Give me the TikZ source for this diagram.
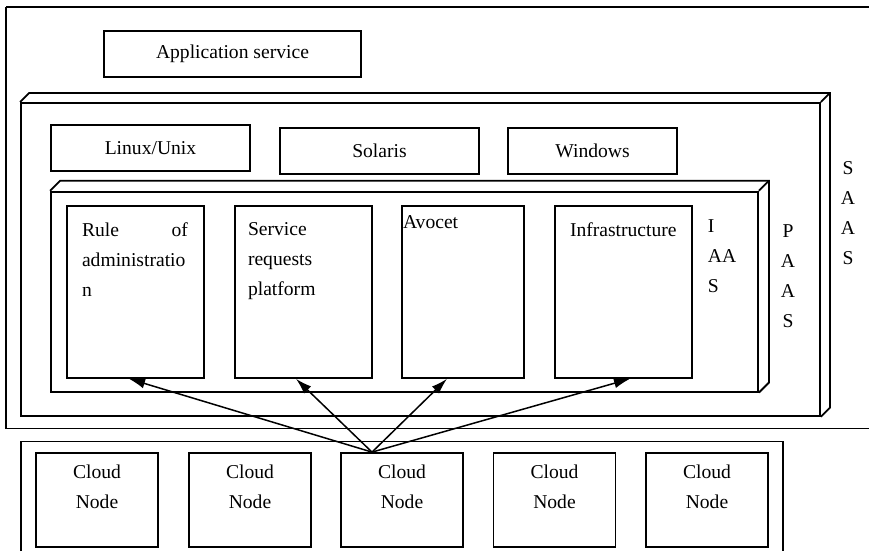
\documentclass[tikz,border=0pt]{standalone}
\usepackage{fontspec}
\setmainfont{Liberation Serif}
\usetikzlibrary{positioning,arrows.meta}

\begin{document}
\begin{tikzpicture}[x=1pt,y=-1pt,line width=1.8pt,
  font=\fontsize{19.6}{30}\selectfont,
  box/.style={draw,rectangle,inner sep=0pt},
  txt/.style={inner sep=0pt,align=left},
  arr/.style={-{Latex[length=16pt,width=10pt]},line width=1.5pt}]
\useasboundingbox (0,0) rectangle (869,551);
% SAAS frame
\draw[line width=2.6pt] (869,7) -- (6,7);
\draw[line width=1.5pt] (6,7) -- (6,428.5) -- (869,428.5);
\node[box,minimum width=257,minimum height=46] (app) at (232.5,54) {Application service};
\node[txt,align=center,anchor=north] (saas) at (848,160.5) {S\\A\\A\\S};
% PAAS
\node[box,minimum width=799,minimum height=313] (paas) at (420.5,259.4) {};
\draw (paas.north west) -- ++(9,-9) -- ([shift={(9,-9)}]paas.north east)
  -- ([shift={(9,-9)}]paas.south east) -- (paas.south east);
\draw (paas.north east) -- ++(9,-9);
\node[txt,align=center,anchor=north] (paaslbl) at (788,223.5) {P\\A\\A\\S};
\node[box,minimum width=199,minimum height=46] (linux) at (150.5,148) {Linux/Unix};
\node[box,minimum width=199,minimum height=46] (solaris) at (379.5,151) {Solaris};
\node[box,minimum width=169,minimum height=46] (windows) at (592.5,151) {Windows};
% IAAS
\node[box,minimum width=707,minimum height=200] (iaas) at (404.5,291.7) {};
\draw (iaas.north west) -- ++(10,-10) -- ([shift={(10,-10)}]iaas.north east)
  -- ([shift={(10,-10)}]iaas.south east) -- (iaas.south east);
\draw (iaas.north east) -- ++(10,-10);
\node[txt,anchor=north west] (iaaslbl) at (707,218.5) {I\\AA\\S};
\node[box,minimum width=137,minimum height=172] (rule) at (135.5,291.9) {};
\node[box,minimum width=137,minimum height=172] (service) at (303.5,291.9) {};
\node[box,minimum width=122,minimum height=172] (avocet) at (463,291.9) {};
\node[box,minimum width=137,minimum height=172] (infra) at (623.5,291.9) {};
\node[txt,below right=17pt and 15pt of rule.north west] (ruletxt)
  {\hbox to 106pt{Rule\hfill of}\\administratio\\n};
\node[txt,below right=17pt and 13pt of service.north west] (servicetxt)
  {Service\\requests\\platform};
\node[txt,below right=10pt and 1pt of avocet.north west] (avocettxt) {Avocet};
\node[txt,below right=17pt and 15pt of infra.north west] (infratxt) {Infrastructure};
% cloud nodes
\draw[line width=1.5pt] (21,551) -- (21,441.7) -- (783,441.7) -- (783,551);
\foreach \i/\x in {1/97,2/250,3/402,4/554.5,5/707}{
  \node[box,minimum width=122,minimum height=94] (c\i) at (\x,500) {};
  \node[txt,align=center,below=12pt of c\i.north] (ct\i) {Cloud\\Node};
}
\coordinate (src) at ([xshift=-30pt]c3.north);
\draw[arr] (src) -- ([xshift=-6.5pt]rule.south);
\draw[arr] (src) -- ([xshift=-7.5pt]service.south);
\draw[arr] (src) -- ([xshift=-16pt]avocet.south);
\draw[arr] (src) -- ([xshift=6.5pt]infra.south);
\end{tikzpicture}
\end{document}
